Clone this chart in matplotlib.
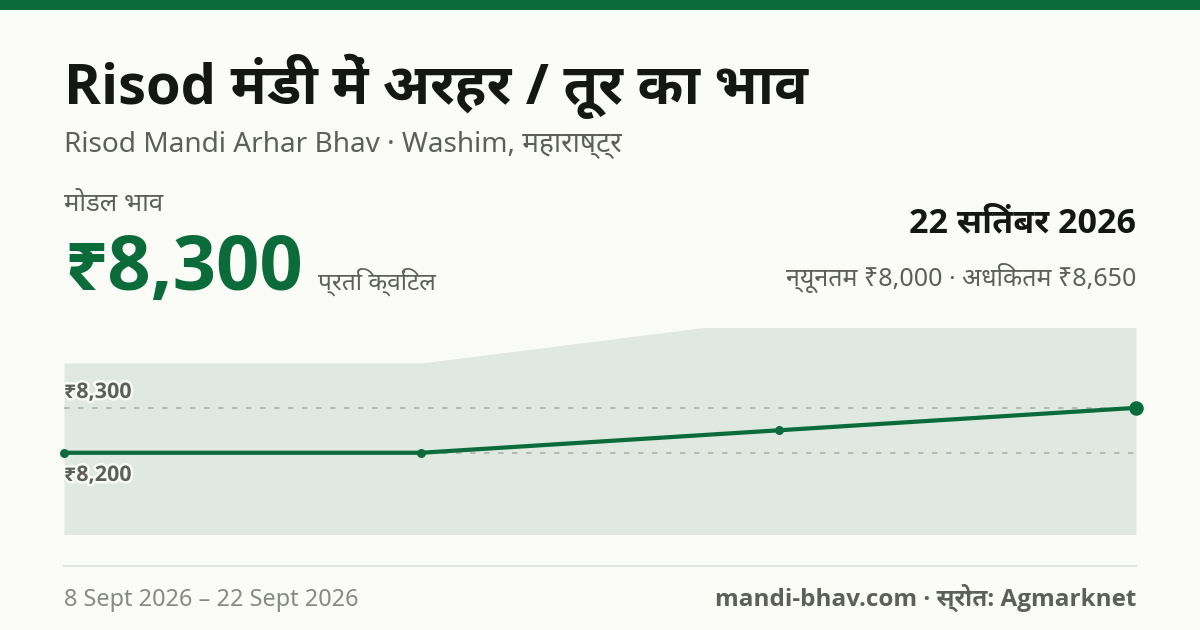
import matplotlib
matplotlib.use('Agg')
import matplotlib.pyplot as plt
import matplotlib.patheffects as pe
from matplotlib.patches import Rectangle
from matplotlib.lines import Line2D

REGULAR = ['Noto Sans', 'Noto Sans Devanagari', 'DejaVu Sans']
BOLD = ['Open Sans', 'Noto Sans Devanagari UI', 'DejaVu Sans']
plt.rcParams['font.family'] = REGULAR

positions = [0, 1, 2, 3]
modal = [8200, 8200, 8250, 8300]
price_max = [8400, 8400, 8500, 8650]
price_min = [8000, 8000, 8000, 8000]
grid_values = [8300, 8200]
grid_labels = ['₹8,300', '₹8,200']

W, H = 1200, 630
BG = '#fbfcf8'
GREEN = '#0b6b3a'
INK = '#151712'
MUTED = '#5c6058'
PALE = '#868a82'

fig = plt.figure(figsize=(W / 100, H / 100), dpi=100, facecolor=BG)


def T(x, y, s, px, color=INK, bold=False, ha='left', va='baseline', **kw):
    return fig.text(x / W, 1 - y / H, s, fontsize=px * 0.72, color=color,
                    family=BOLD if bold else REGULAR,
                    fontweight=700 if bold else 400, ha=ha, va=va, **kw)


fig.add_artist(Rectangle((0, 1 - 10 / H), 1, 10 / H, transform=fig.transFigure,
                         facecolor=GREEN, edgecolor='none'))

T(64, 104, 'Risod मंडी में अरहर / तूर का भाव', 56, bold=True)
T(64, 152, 'Risod Mandi Arhar Bhav · Washim, महाराष्ट्र', 28, color=MUTED)
T(64, 211, 'मोडल भाव', 25.8, color=MUTED)
T(64, 290, '₹8,300', 76, color=GREEN, bold=True)
T(318, 290, 'प्रति क्विंटल', 24.5, color=MUTED)
T(1136, 232, '22 सितंबर 2026', 34, bold=True, ha='right')
T(1136, 286, 'न्यूनतम ₹8,000 · अधिकतम ₹8,650', 25, color=MUTED, ha='right')

ax = fig.add_axes([64 / W, 1 - 533.6 / H, (1136 - 64) / W, (533.6 - 328) / H])
ax.set_facecolor('none')
ax.set_xlim(positions[0], positions[-1])
ax.set_ylim(8020, 8477.8)
ax.axis('off')
ax.fill_between(positions, price_min, price_max, color='#dfe9e2', lw=0, zorder=1)
for v in grid_values:
    ax.axhline(v, color='#aaaea4', lw=1.1, dashes=(5.5 * 0.72 / 1.1, 8.5 * 0.72 / 1.1), zorder=2)
ax.plot(positions, modal, color=GREEN, lw=4.2 * 0.72, zorder=3, solid_capstyle='round')
ax.plot(positions[:-1], modal[:-1], 'o', color=GREEN, ms=9 * 0.72, mew=0, zorder=4, clip_on=False)
ax.plot(positions[-1:], modal[-1:], 'o', color=GREEN, ms=14.5 * 0.72, mew=0, zorder=4, clip_on=False)

stroke = [pe.withStroke(linewidth=3.5, foreground=BG)]
T(64, 398, grid_labels[0], 21.5, color=MUTED, bold=True, path_effects=stroke)
T(64, 481, grid_labels[1], 21.5, color=MUTED, bold=True, path_effects=stroke)

fig.add_artist(Line2D([64 / W, 1136 / W], [1 - 566 / H] * 2, color='#e3e5e0', lw=1.5,
                      transform=fig.transFigure))
T(64, 606, '8 Sept 2026 – 22 Sept 2026', 23.5, color=PALE)
T(1136, 606, 'mandi-bhav.com · स्रोत: Agmarknet', 24.2, color=MUTED, bold=True, ha='right')

fig.savefig('out.png', dpi=100, facecolor=BG)
